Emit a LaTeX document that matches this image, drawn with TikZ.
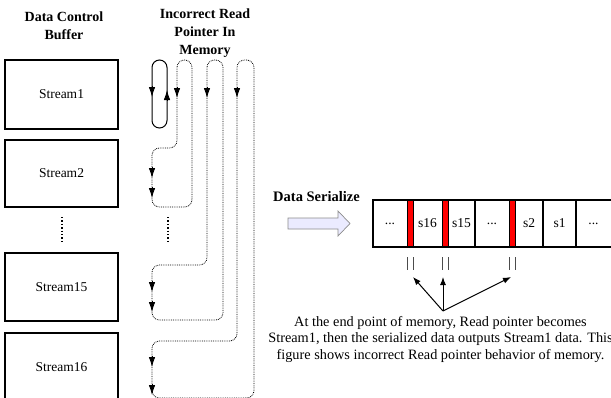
\documentclass[tikz,border=0pt]{standalone}
\usepackage{fontspec}
\setmainfont{Liberation Serif}
\usetikzlibrary{arrows.meta}
\begin{document}
\begin{tikzpicture}[x=1pt,y=-1pt,
  buf/.style={draw, line width=1.3pt, minimum width=113pt, minimum height=67pt, font=\fontsize{13.5}{16}\selectfont, inner sep=0pt},
  ttl/.style={font=\fontsize{14}{18}\selectfont\bfseries, align=center, inner sep=0pt},
  ptr/.style={line width=0.8pt, densely dotted, rounded corners=7.5pt},
  loopsolid/.style={line width=1pt, rounded corners=7.5pt},
  parr/.style={line width=0.8pt, -{Latex[length=10pt,width=6.5pt]}},
  vdots/.style={line width=1.4pt, dotted},
  cell/.style={font=\fontsize{13.5}{16}\selectfont, inner sep=0pt},
  redbar/.style={fill=red, draw=black, line width=0.8pt},
  tickline/.style={line width=0.8pt, draw=black!70},
  sarr/.style={line width=1pt, -{Latex[length=8pt,width=6pt]}},
  captxt/.style={font=\fontsize{14.3}{16.3}\selectfont, align=center, inner sep=0pt}
]
\useasboundingbox (0,0) rectangle (611,397);
\clip (0,0) rectangle (611,397);

% titles
\node[ttl] (t1) at (64,26) {Data Control\\Buffer};
\node[ttl] (t2) at (205,33) {Incorrect Read\\Pointer In\\Memory};

% buffer boxes
\node[buf, minimum height=69pt] (b1) at (61.5,94.5) {Stream1};
\node[buf] (b2) at (61.5,173.5) {Stream2};
\node[buf, minimum height=68pt] (b15) at (61.5,287) {Stream15};
\node[buf, minimum height=68pt] (b16) at (61.5,367) {Stream16};
\draw[vdots] (62,217) -- (62,243);

% pointer loops
\draw[loopsolid] (152,60) rectangle (167,128);
\draw[parr] (152,86) -- (152,97);
\draw[parr] (167,101) -- (167,90);

\draw[ptr] (177,60) -- (177,148) -- (152,148) -- (152,207) -- (192,207) -- (192,60) -- cycle;
\draw[parr] (177,87) -- (177,98);
\draw[parr] (152,167) -- (152,178);
\draw[parr] (152,187) -- (152,198);

\draw[ptr] (207,60) -- (207,265) -- (152,265) -- (152,320) -- (223,320) -- (223,60) -- cycle;
\draw[parr] (207,87) -- (207,98);
\draw[parr] (152,281) -- (152,292);
\draw[parr] (152,301) -- (152,312);

\draw[ptr] (237,60) -- (237,341) -- (152,341) -- (152,398) -- (254,398) -- (254,60) -- cycle;
\draw[parr] (237,87) -- (237,98);
\draw[parr] (152,356) -- (152,367);
\draw[parr] (152,384) -- (152,395);

\draw[vdots] (168,217) -- (168,243);

% data serialize
\node[font=\fontsize{14.5}{16}\selectfont\bfseries, inner sep=0pt] (ds) at (316.5,197) {Data Serialize};
\draw[fill=blue!8, draw=black!45, line width=0.7pt]
  (288,218) -- (338,218) -- (338,211) -- (350,223.5) -- (338,236) -- (338,229) -- (288,229) -- cycle;

% tape
\draw[line width=1.2pt] (373,200) rectangle (625,247);
\draw[redbar] (407,200) rectangle (413,247);
\draw[redbar] (442,200) rectangle (448,247);
\draw[redbar] (509,200) rectangle (515,247);
\draw[line width=1.2pt] (475,200) -- (475,247);
\draw[line width=1.2pt] (543,200) -- (543,247);
\draw[line width=1.2pt] (576,200) -- (576,247);
\draw[line width=1.2pt] (373,200) -- (625,200) (373,247) -- (625,247);
\node[cell] (c1) at (390,223.5) {...};
\node[cell] (c2) at (427.5,223.5) {s16};
\node[cell] (c3) at (461.5,223.5) {s15};
\node[cell] (c4) at (492,223.5) {...};
\node[cell] (c5) at (529,223.5) {s2};
\node[cell] (c6) at (559.5,223.5) {s1};
\node[cell] (c7) at (593.5,223.5) {...};

% marks below red bars
\foreach \xx in {407,413,442,448,509,515} {
  \draw[tickline] (\xx,257) -- (\xx,270);
}

% arrows
\coordinate (o) at (443,311);
\coordinate (p1) at (413,277);
\coordinate (p2) at (443,277);
\coordinate (p3) at (511,277);
\draw[sarr] (o) -- (p1);
\draw[sarr] (o) -- (p2);
\draw[sarr] (o) -- (p3);

% caption
\node[captxt] (capt) at (440.5,339.5) {At the end point of memory, Read pointer becomes\\Stream1, then the serialized data outputs Stream1 data. This\\figure shows incorrect Read pointer behavior of memory.};
\end{tikzpicture}
\end{document}
